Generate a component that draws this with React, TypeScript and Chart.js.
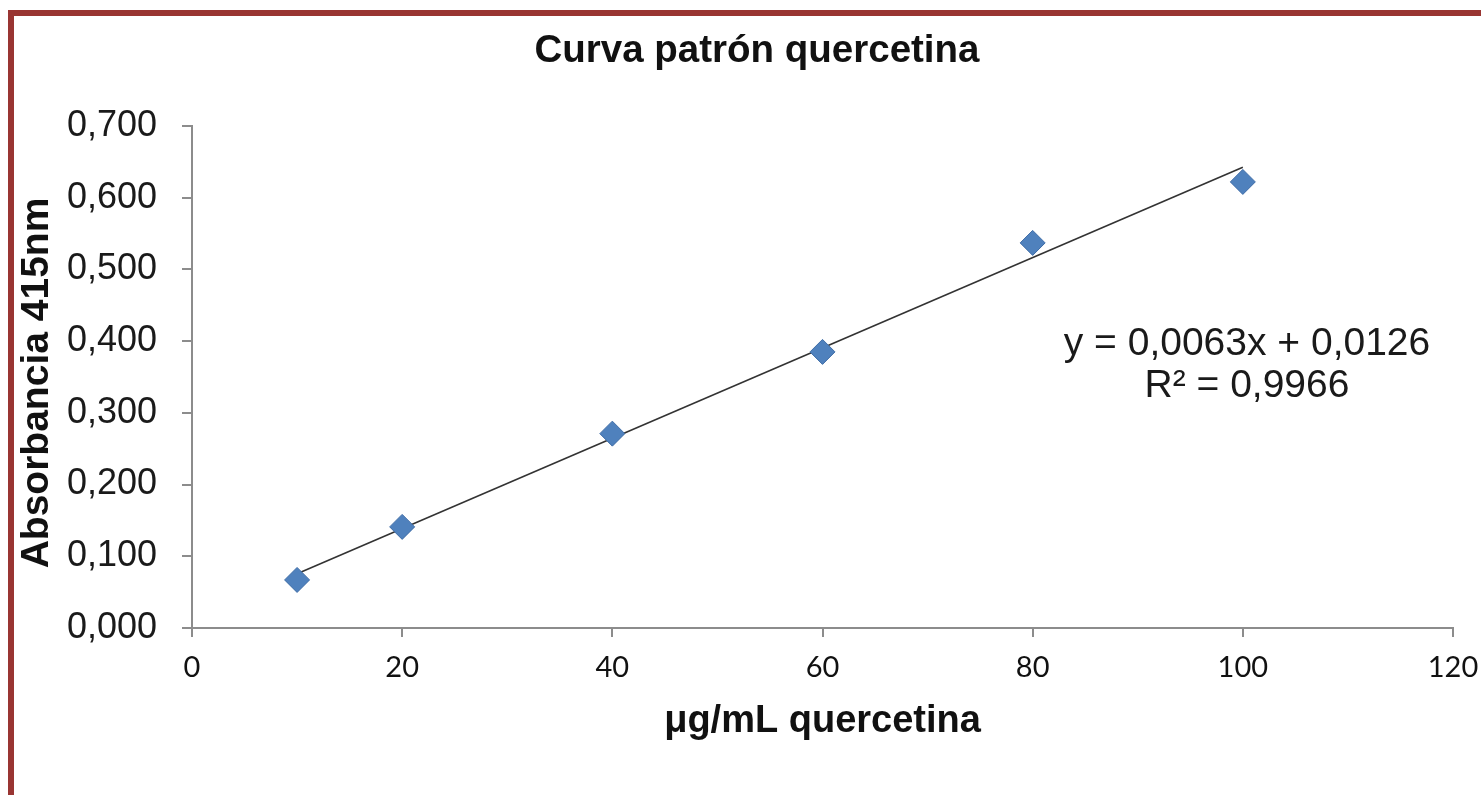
import React, { useEffect, useRef } from "react";
import { Chart, registerables } from "chart.js";

Chart.register(...registerables);

const chartTitle = "Curva patrón quercetina";
const xAxisTitle = "μg/mL quercetina";
const yAxisTitle = "Absorbancia 415nm";

const concentrations = [10, 20, 40, 60, 80, 100];
const absorbances = [0.067, 0.141, 0.271, 0.385, 0.537, 0.622];

const trendSlope = 0.0063;
const trendIntercept = 0.0126;
const equationText = "y = 0,0063x + 0,0126";
const r2Text = "R² = 0,9966";

const xMin = 0;
const xMax = 120;
const xStep = 20;
const yMin = 0;
const yMax = 0.7;
const yStep = 0.1;

const SANS = "'Liberation Sans', Arial, sans-serif";

const textPlugin = {
  id: "textPlugin",
  afterDraw(chart: any) {
    const ctx = chart.ctx;
    const area = chart.chartArea;
    ctx.save();
    ctx.fillStyle = "#111";
    ctx.textBaseline = "alphabetic";
    ctx.textAlign = "center";
    // chart title
    ctx.font = `bold 38.5px ${SANS}`;
    ctx.fillText(chartTitle, 757, 62);
    // x axis title
    ctx.font = `bold 38px ${SANS}`;
    ctx.fillText(xAxisTitle, (area.left + area.right) / 2, 732);
    // y axis title
    ctx.font = `bold 39px ${SANS}`;
    ctx.save();
    ctx.translate(48, 383);
    ctx.rotate(-Math.PI / 2);
    ctx.fillText(yAxisTitle, 0, 0);
    ctx.restore();
    // equation
    ctx.font = `39px ${SANS}`;
    ctx.fillStyle = "#1a1a1a";
    ctx.fillText(equationText, 1247, 355);
    ctx.fillText(r2Text, 1247, 397);
    ctx.restore();
  },
};

export default function App() {
  const canvasRef = useRef<HTMLCanvasElement | null>(null);

  useEffect(() => {
    document.body.style.margin = "0";
    const canvas = canvasRef.current;
    if (!canvas) return;

    const points = concentrations.map((x, i) => ({ x, y: absorbances[i] }));
    const xFirst = concentrations[0];
    const xLast = concentrations[concentrations.length - 1];
    const trend = [
      { x: xFirst, y: trendSlope * xFirst + trendIntercept },
      { x: xLast, y: trendSlope * xLast + trendIntercept },
    ];

    const chart = new Chart(canvas, {
      type: "scatter",
      data: {
        datasets: [
          {
            type: "line",
            label: "Lineal",
            data: trend,
            borderColor: "#333333",
            borderWidth: 1.6,
            pointRadius: 0,
            fill: false,
            order: 2,
          } as any,
          {
            label: "Absorbancia",
            data: points,
            pointStyle: "rectRot",
            pointRadius: 12.5,
            pointBackgroundColor: "#4F81BD",
            pointBorderColor: "#3E6CA6",
            pointBorderWidth: 1,
            order: 1,
          },
        ],
      },
      options: {
        responsive: false,
        animation: false,
        events: [],
        layout: { padding: { left: 0, right: 28, top: 126, bottom: 0 } },
        plugins: {
          legend: { display: false },
          title: { display: false },
          tooltip: { enabled: false },
        },
        scales: {
          x: {
            type: "linear",
            min: xMin,
            max: xMax,
            afterFit: (scale: any) => {
              scale.height = 167;
              scale.paddingRight = 0;
              scale.paddingLeft = 0;
            },
            ticks: {
              stepSize: xStep,
              color: "#111111",
              font: { family: "Lato, 'Open Sans', sans-serif", size: 29 },
              padding: 13,
              maxRotation: 0,
            },
            grid: {
              drawOnChartArea: false,
              drawTicks: true,
              tickLength: 9,
              color: "#8c8c8c",
              lineWidth: 2,
            },
            border: { display: true, color: "#8c8c8c", width: 2 },
          },
          y: {
            type: "linear",
            min: yMin,
            max: yMax,
            afterFit: (scale: any) => {
              scale.width = 192;
              scale.paddingTop = 0;
              scale.paddingBottom = 0;
            },
            ticks: {
              stepSize: yStep,
              color: "#1a1a1a",
              font: { family: SANS, size: 36 },
              padding: 25,
              callback: (v: any) => Number(v).toFixed(3).replace(".", ","),
            },
            grid: {
              drawOnChartArea: false,
              drawTicks: true,
              tickLength: 10,
              color: "#8c8c8c",
              lineWidth: 2,
            },
            border: { display: true, color: "#8c8c8c", width: 2 },
          },
        },
      },
      plugins: [textPlugin],
    });

    return () => chart.destroy();
  }, []);

  return (
    <div
      style={{
        position: "relative",
        width: 1481,
        height: 795,
        overflow: "hidden",
        background: "#ffffff",
      }}
    >
      <canvas
        ref={canvasRef}
        width={1481}
        height={795}
        style={{ position: "absolute", left: 0, top: 0, width: 1481, height: 795 }}
      />
      <div
        style={{
          position: "absolute",
          left: 8,
          top: 10,
          width: 1600,
          height: 900,
          borderLeft: "6px solid #993532",
          borderTop: "6px solid #993532",
          pointerEvents: "none",
        }}
      />
    </div>
  );
}
